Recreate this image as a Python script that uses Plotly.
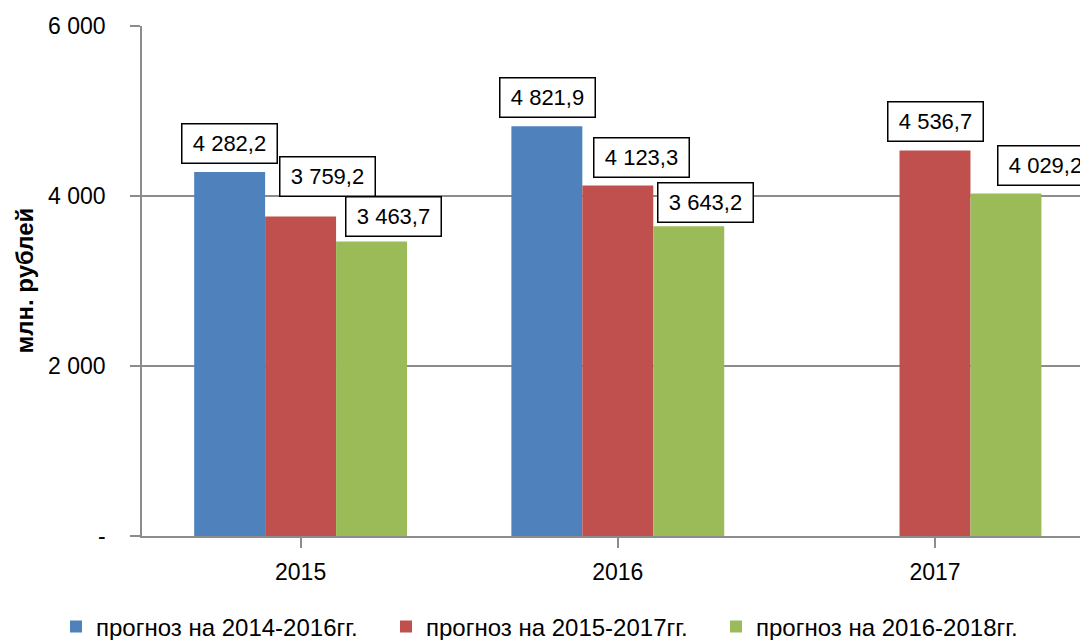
import plotly.graph_objects as go

# ---- data ----
categories = ["2015", "2016", "2017"]
series_names = ["прогноз на 2014-2016гг.", "прогноз на 2015-2017гг.", "прогноз на 2016-2018гг."]
values_2014_2016 = [4282.2, 4821.9, None]
values_2015_2017 = [3759.2, 4123.3, 4536.7]
values_2016_2018 = [3463.7, 3643.2, 4029.2]
y_tickvals = [0, 2000, 4000, 6000]
y_ticktext = ["-", "2 000", "4 000", "6 000"]
y_title = "млн. рублей"

# ---- style ----
colors = ["#4F81BD", "#C0504D", "#9BBB59"]
label_dx = [[0, 0.5, 0], [26.5, 24, 0], [21.5, 16.5, 40]]      # px shift of label boxes
label_gap = [[8, 8, 8], [19, 8, 8], [5, 3, 8]]                  # px gap above bar top
FONT = "Liberation Sans, Arial, sans-serif"
GRID = "#8C8C8C"
bargap = 0.329
PLOT_L, PLOT_W, PLOT_B, PLOT_H = 142, 938, 536, 510

all_series = [values_2014_2016, values_2015_2017, values_2016_2018]


def fmt(v):
    s = f"{v:,.1f}".replace(",", " ").replace(".", ",")
    return s


fig = go.Figure()
for name, vals, col in zip(series_names, all_series, colors):
    fig.add_trace(go.Bar(x=list(range(len(categories))), y=vals, name=name,
                         marker=dict(color=col, line=dict(width=0))))

bw = (1 - bargap) / len(all_series)
annotations = []
for i, vals in enumerate(all_series):
    off = (i - (len(all_series) - 1) / 2) * bw
    for j, v in enumerate(vals):
        if v is None:
            continue
        annotations.append(dict(
            x=j + off, y=v, xref="x", yref="y", text=fmt(v), showarrow=False,
            xanchor="center", yanchor="bottom",
            xshift=label_dx[i][j], yshift=label_gap[i][j],
            font=dict(family=FONT, size=22, color="black"),
            bgcolor="white", bordercolor="black", borderwidth=1.5, borderpad=5,
            width=84, height=28,
        ))

annotations.append(dict(
    text=f"<b>{y_title}</b>", textangle=-90, showarrow=False,
    xref="paper", yref="paper", x=-(PLOT_L - 23.5) / PLOT_W, y=0.5,
    xanchor="center", yanchor="middle",
    font=dict(family=FONT, size=24, color="black"),
))

fig.update_layout(
    width=1080, height=640,
    margin=dict(l=PLOT_L, r=0, t=26, b=104, autoexpand=False),
    paper_bgcolor="white", plot_bgcolor="white",
    barmode="group", bargap=bargap, bargroupgap=0,
    font=dict(family=FONT, size=22, color="black"),
    annotations=annotations,
    showlegend=True,
    legend=dict(orientation="h", xref="paper", yref="paper",
                x=(56 - PLOT_L) / PLOT_W, y=-(627 - PLOT_B) / PLOT_H,
                xanchor="left", yanchor="middle",
                entrywidth=285, entrywidthmode="pixels",
                font=dict(family=FONT, size=24, color="black"),
                traceorder="normal", itemclick=False),
    xaxis=dict(
        range=[-0.5, -0.5 + PLOT_W / 317.2], automargin=False,
        tickmode="array", tickvals=list(range(len(categories))), ticktext=categories,
        tickson="boundaries", ticks="outside", ticklen=10, tickwidth=1.5, tickcolor=GRID,
        showline=True, linecolor=GRID, linewidth=1.5,
        showgrid=False, zeroline=False,
        tickfont=dict(family=FONT, size=23, color="black"),
        ticklabelstandoff=5,
    ),
    yaxis=dict(
        range=[0, 6000], automargin=False,
        tickmode="array", tickvals=y_tickvals, ticktext=y_ticktext,
        ticks="outside", ticklen=10, tickwidth=1.5, tickcolor=GRID,
        showline=True, linecolor=GRID, linewidth=1.5,
        showgrid=True, gridcolor=GRID, gridwidth=1.5, zeroline=False,
        tickfont=dict(family=FONT, size=23, color="black"),
        ticklabelstandoff=20,
    ),
)

fig.write_html("out.html", config={"displayModeBar": False},
               post_script="document.body.style.margin='0';document.body.style.overflow='hidden';")
